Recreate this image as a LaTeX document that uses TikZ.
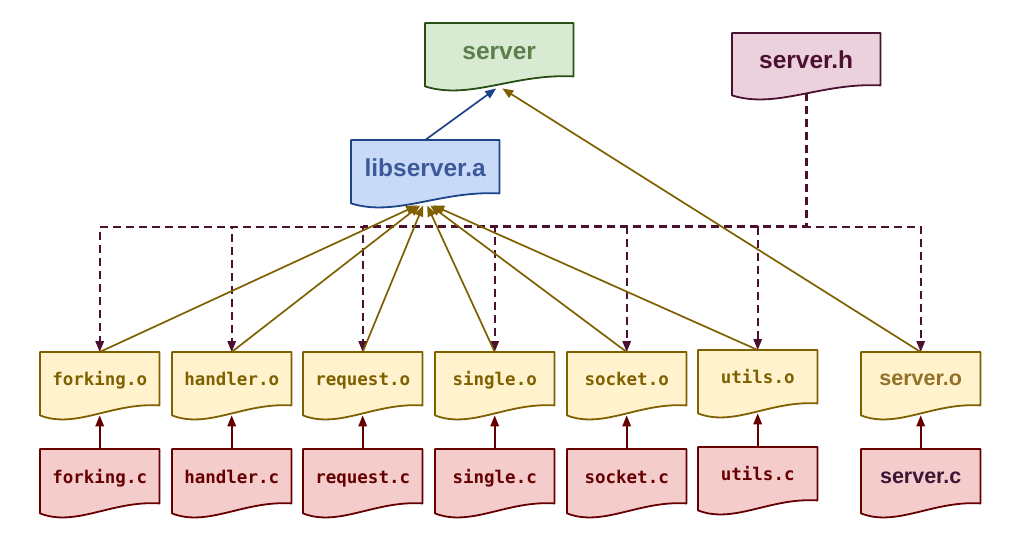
\documentclass[tikz,border=0pt]{standalone}
\usepackage{fontspec}
\usetikzlibrary{arrows.meta,calc,backgrounds}
\newfontfamily\sansf{Liberation Sans}
\newfontfamily\monof{DejaVu Sans Mono}
\definecolor{gfill}{HTML}{D9EAD3}\definecolor{gdraw}{HTML}{274E13}\definecolor{gtext}{HTML}{5B7F4B}
\definecolor{hfill}{HTML}{EAD1DC}\definecolor{hdraw}{HTML}{4C1130}
\definecolor{bfill}{HTML}{C9DAF8}\definecolor{bdraw}{HTML}{1C4587}\definecolor{btext}{HTML}{3C5A9A}
\definecolor{ofill}{HTML}{FFF2CC}\definecolor{odraw}{HTML}{7F6000}\definecolor{otext}{HTML}{937128}
\definecolor{cfill}{HTML}{F4CCCC}\definecolor{cdraw}{HTML}{660000}\definecolor{ctext}{HTML}{3D1535}
\newcommand\docout[3]{\draw[outline, fill=#2, draw=#3] (#1.north west) -- (#1.north east) -- ($(#1.south east)+(0,-10)$) .. controls ($(#1.south west)!0.6!(#1.south east)+(0,-13)$) and ($(#1.south west)!0.3!(#1.south east)+(0,14)$) .. (#1.south west) -- cycle;}
\begin{document}
\begin{tikzpicture}[x=1pt,y=-1pt,
  box/.style={rectangle, inner sep=0pt, anchor=north west, minimum width=119pt, minimum height=63pt},
  bigbox/.style={box, minimum width=148pt, text height=16pt, text depth=7pt, font=\sansf\bfseries\fontsize{24.5}{28}\selectfont},
  monolabel/.style={text height=12pt, text depth=7.6pt, font=\monof\bfseries\fontsize{17.5}{20}\selectfont},
  sanslabel/.style={text height=14pt, text depth=9.6pt, font=\sansf\bfseries\fontsize{21.5}{25}\selectfont},
  obox/.style={box, text=odraw, monolabel},
  cbox/.style={box, minimum height=64pt, text=cdraw, monolabel},
  outline/.style={line width=1.8pt, line join=round},
  tip/.style={-{Triangle[length=11pt,width=8.5pt]}},
  gold/.style={draw=odraw, line width=1.7pt, tip},
  blueline/.style={draw=bdraw, line width=1.7pt, tip},
  redline/.style={draw=cdraw, line width=1.7pt, tip},
  dep/.style={draw=hdraw, line width=1.7pt, dash pattern=on 8pt off 5pt, tip},
  trunk/.style={draw=hdraw, line width=3pt, dash pattern=on 8pt off 5pt}
]
\useasboundingbox (0,0) rectangle (1017,537);
% top nodes
\node[bigbox, text=gtext] (srv) at (425,23) {server};
\node[bigbox, text=hdraw, minimum height=62pt] (sh) at (732,33) {server.h};
\node[bigbox, text=btext] (lib) at (351,140) {libserver.a};
% object files
\node[obox] (fo) at (40,352) {forking.o};
\node[obox] (ha) at (172,352) {handler.o};
\node[obox] (rq) at (303,352) {request.o};
\node[obox] (si) at (435,352) {single.o};
\node[obox] (so) at (567,352) {socket.o};
\node[obox] (ut) at (698,350) {utils.o};
\node[box, sanslabel, text=otext] (sv) at (861,352) {server.o};
% sources
\node[cbox] (fc) at (40,449) {forking.c};
\node[cbox] (hc) at (172,449) {handler.c};
\node[cbox] (rc) at (303,449) {request.c};
\node[cbox] (sc) at (435,449) {single.c};
\node[cbox] (kc) at (567,449) {socket.c};
\node[cbox, minimum height=63pt] (uc) at (698,447) {utils.c};
\node[box, minimum height=64pt, sanslabel, text=ctext] (vc) at (861,449) {server.c};
\begin{pgfonlayer}{background}
\docout{srv}{gfill}{gdraw}
\docout{sh}{hfill}{hdraw}
\docout{lib}{bfill}{bdraw}
\foreach \n in {fo,ha,rq,si,so,ut,sv}{\docout{\n}{ofill}{odraw}}
\foreach \n in {fc,hc,rc,sc,kc,uc,vc}{\docout{\n}{cfill}{cdraw}}
\end{pgfonlayer}
% header dependencies
\coordinate (bus) at (0,227);
\foreach \n in {fo,ha,rq,si,so,ut,sv}{\draw[dep] ([yshift=2pt]sh.south) -- (sh.south |- bus) -| (\n.north);}
\draw[trunk] ([yshift=2pt]sh.south) -- (sh.south |- bus) -- (rq.north |- bus);
% archive members
\draw[gold] (fo.north) -- ([xshift=-8pt,yshift=-2pt]lib.south);
\draw[gold] (ha.north) -- ([xshift=-5pt,yshift=-2pt]lib.south);
\draw[gold] (rq.north) -- ([xshift=-2pt,yshift=-2pt]lib.south);
\draw[gold] (si.north) -- ([xshift=2pt,yshift=-2pt]lib.south);
\draw[gold] (so.north) -- ([xshift=5pt,yshift=-2pt]lib.south);
\draw[gold] (ut.north) -- ([xshift=8pt,yshift=-2pt]lib.south);
% link
\draw[blueline] (lib.north) -- ([xshift=-3pt,yshift=-2pt]srv.south);
\draw[gold] (sv.north) -- ([xshift=3pt,yshift=-2pt]srv.south);
% compile
\foreach \c/\o in {fc/fo,hc/ha,rc/rq,sc/si,kc/so,uc/ut,vc/sv}{\draw[redline] (\c.north) -- (\o.south);}
\end{tikzpicture}
\end{document}
